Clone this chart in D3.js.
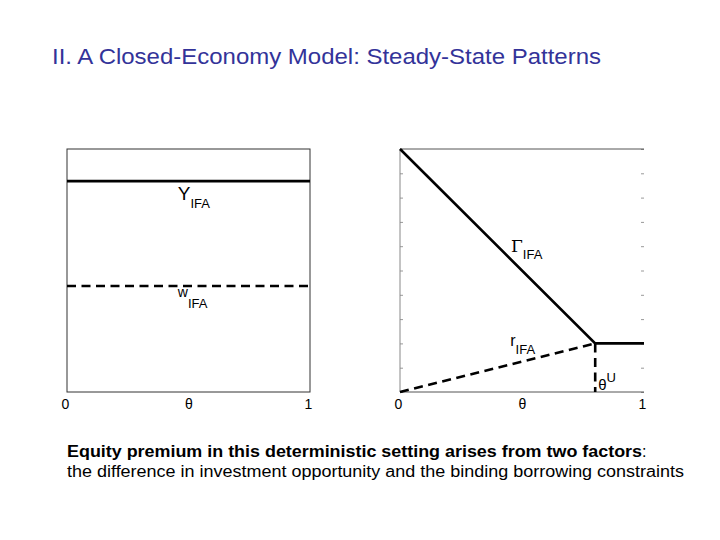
<!DOCTYPE html>
<html lang="en">
<head>
  <meta charset="UTF-8">
  <title>Closed-Economy Model: Steady-State Patterns</title>
  <script src="https://d3js.org/d3.v7.min.js"></script>
  <style>
    body { margin: 0; background: #fff; }
    svg { font-family: "Liberation Sans", Arial, sans-serif; }
    .title { font-size: 22px; fill: #333399; }
    .note { font-size: 16px; fill: #000; }
    .frame { fill: none; stroke: #333; stroke-width: 1px; }
    .curve { fill: none; stroke: #000; stroke-width: 2.6px; }
    .dash { stroke-dasharray: 9 5.5; }
    .lab { fill: #000; }
    .axis path { display: none; }
    .axis line { stroke: #999; }
    .axis text { font-size: 14px; fill: #000; font-family: "Liberation Sans", Arial, sans-serif; }
  </style>
</head>
<body>
  <svg id="chart" width="720" height="540"></svg>

  <script>
    // x tick labels (0, theta, 1)
    const xTickVals = [0, 0.5, 1];
    const xTickText = ["0", "\u03b8", "1"];

    // left panel: flat levels
    const levelY = 0.868;   // Y_IFA
    const levelW = 0.436;   // w_IFA

    // right panel: Gamma and r against theta
    const gammaPts = [[0, 1], [0.8, 0.2], [1, 0.2]];
    const rPts = [[0, 0], [0.8, 0.2]];
    const thetaU = 0.8;
    const yTicks = d3.range(0, 1.0001, 0.1);

    const svg = d3.select("#chart");

    svg.append("text").attr("class", "title")
      .attr("x", 52).attr("y", 64)
      .attr("textLength", 549).attr("lengthAdjust", "spacingAndGlyphs")
      .text("II. A Closed-Economy Model: Steady-State Patterns");

    const W = 243, H = 243, panelTop = 149;

    // subscripted label helper
    function subLabel(g, x, y, main, mainSize, mainFont, sub, dy) {
      const t = g.append("text").attr("class", "lab").attr("x", x).attr("y", y);
      t.append("tspan").style("font-size", mainSize + "px")
        .style("font-family", mainFont).text(main);
      t.append("tspan").style("font-size", "13px").attr("dy", dy).text(sub);
      return t;
    }

    // ---- left panel
    const gL = svg.append("g").attr("transform", `translate(67,${panelTop})`);
    const xL = d3.scaleLinear().domain([0, 1]).range([0, W]);
    const yL = d3.scaleLinear().domain([0, 1]).range([H, 0]);

    gL.append("rect").attr("class", "frame").attr("width", W).attr("height", H);

    gL.append("line").attr("class", "curve")
      .attr("x1", xL(0)).attr("x2", xL(1))
      .attr("y1", yL(levelY)).attr("y2", yL(levelY));
    gL.append("line").attr("class", "curve dash")
      .attr("x1", xL(0)).attr("x2", xL(1))
      .attr("y1", yL(levelW)).attr("y2", yL(levelW));

    subLabel(gL, xL(0.456), yL(levelY) + 19, "Y", 19, null, "IFA", 8);
    subLabel(gL, xL(0.456), yL(levelW) + 11, "w", 14, null, "IFA", 11);

    gL.append("g").attr("class", "axis")
      .attr("transform", `translate(0,${H})`)
      .call(d3.axisBottom(xL).tickValues(xTickVals).tickSize(0).tickPadding(7)
        .tickFormat((d, i) => xTickText[i]))
      .selectAll("text").attr("dx", (d, i) => i === 1 ? 0 : -2);

    // ---- right panel
    const gR = svg.append("g").attr("transform", `translate(400,${panelTop})`);
    const xR = d3.scaleLinear().domain([0, 1]).range([0, 244]);
    const yR = d3.scaleLinear().domain([0, 1]).range([H, 0]);

    gR.append("g").attr("class", "axis")
      .call(d3.axisLeft(yR).tickValues(yTicks).tickSize(-3).tickFormat(""));
    gR.append("g").attr("class", "axis")
      .attr("transform", `translate(${xR(1)},0)`)
      .call(d3.axisRight(yR).tickValues(yTicks).tickSize(-3).tickFormat(""))
      .selectAll("line").attr("stroke", "#bbb");

    gR.append("line").attr("x1", 0).attr("x2", 0).attr("y1", 0).attr("y2", H)
      .attr("stroke", "#888");
    gR.append("line").attr("x1", 0).attr("x2", xR(1)).attr("y1", 0).attr("y2", 0)
      .attr("stroke", "#555");
    gR.append("line").attr("x1", 0).attr("x2", xR(1)).attr("y1", H).attr("y2", H)
      .attr("stroke", "#555");

    const line = d3.line().x(d => xR(d[0])).y(d => yR(d[1]));
    gR.append("path").datum(gammaPts).attr("class", "curve").attr("d", line);
    gR.append("path").datum(rPts).attr("class", "curve dash").attr("d", line);
    gR.append("line").attr("class", "curve dash")
      .attr("x1", xR(thetaU)).attr("x2", xR(thetaU))
      .attr("y1", yR(0.2)).attr("y2", yR(0));

    subLabel(gR, xR(0.455), yR(0.575), "\u0393", 17, "DejaVu Serif", "IFA", 7);
    subLabel(gR, xR(0.452), yR(0.19), "r", 16, null, "IFA", 8);

    const tLab = gR.append("text").attr("class", "lab")
      .attr("x", xR(thetaU) + 3).attr("y", yR(0.01));
    tLab.append("tspan").style("font-size", "15px").text("\u03b8");
    tLab.append("tspan").style("font-size", "13px").attr("dy", -8).text("U");

    gR.append("g").attr("class", "axis")
      .attr("transform", `translate(0,${H})`)
      .call(d3.axisBottom(xR).tickValues(xTickVals).tickSize(0).tickPadding(7)
        .tickFormat((d, i) => xTickText[i]))
      .selectAll("text").attr("dx", (d, i) => i === 1 ? 0 : -2);

    // ---- caption
    const n1 = svg.append("text").attr("class", "note").attr("x", 67).attr("y", 457);
    n1.append("tspan").attr("font-weight", "bold")
      .attr("textLength", 575).attr("lengthAdjust", "spacingAndGlyphs")
      .text("Equity premium in this deterministic setting arises from two factors");
    n1.append("tspan").text(":");
    svg.append("text").attr("class", "note").attr("x", 67).attr("y", 477)
      .attr("textLength", 617).attr("lengthAdjust", "spacingAndGlyphs")
      .text("the difference in investment opportunity and the binding borrowing constraints");
  </script>
</body>
</html>
